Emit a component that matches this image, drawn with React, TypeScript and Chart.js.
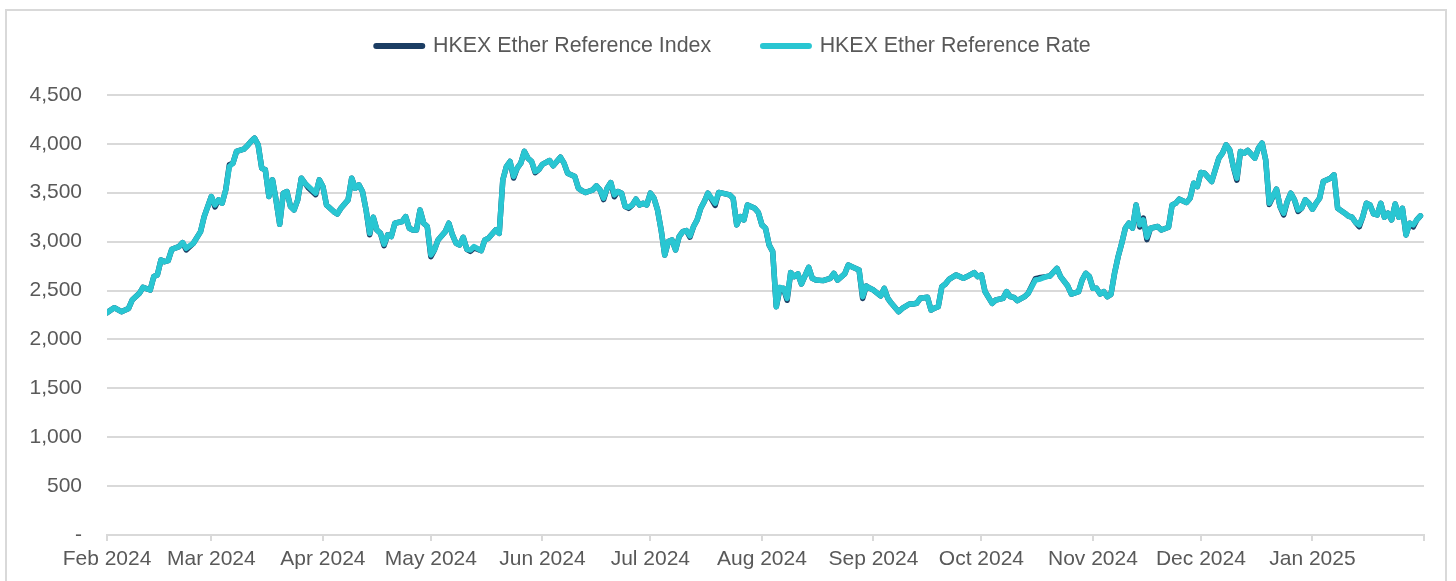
import React, { useEffect, useRef } from "react";
import { Chart, registerables } from "chart.js";

Chart.register(...registerables);

// ---- data ----
const dates: string[] = [
  "2024-02-01","2024-02-03","2024-02-05","2024-02-07","2024-02-08","2024-02-10","2024-02-11","2024-02-13","2024-02-14","2024-02-15","2024-02-16","2024-02-17","2024-02-18","2024-02-19","2024-02-21","2024-02-22","2024-02-23","2024-02-25","2024-02-27","2024-02-28",
  "2024-03-01","2024-03-02","2024-03-03","2024-03-04","2024-03-05","2024-03-06","2024-03-07","2024-03-08","2024-03-10","2024-03-11","2024-03-12","2024-03-13","2024-03-14","2024-03-15","2024-03-16","2024-03-17","2024-03-18","2024-03-19","2024-03-20","2024-03-21","2024-03-22","2024-03-23","2024-03-24","2024-03-25","2024-03-26","2024-03-27","2024-03-28","2024-03-30","2024-03-31",
  "2024-04-01","2024-04-02","2024-04-04","2024-04-05","2024-04-06","2024-04-08","2024-04-09","2024-04-10","2024-04-11","2024-04-12","2024-04-13","2024-04-14","2024-04-15","2024-04-16","2024-04-17","2024-04-18","2024-04-19","2024-04-20","2024-04-21","2024-04-23","2024-04-24","2024-04-25","2024-04-26","2024-04-27","2024-04-28","2024-04-29","2024-04-30",
  "2024-05-01","2024-05-02","2024-05-03","2024-05-05","2024-05-06","2024-05-07","2024-05-08","2024-05-09","2024-05-10","2024-05-11","2024-05-12","2024-05-13","2024-05-15","2024-05-16","2024-05-17","2024-05-19","2024-05-20","2024-05-21","2024-05-22","2024-05-23","2024-05-24","2024-05-25","2024-05-26","2024-05-27","2024-05-28","2024-05-29","2024-05-30","2024-05-31",
  "2024-06-01","2024-06-03","2024-06-04","2024-06-06","2024-06-07","2024-06-08","2024-06-10","2024-06-11","2024-06-12","2024-06-13","2024-06-15","2024-06-16","2024-06-17","2024-06-18","2024-06-19","2024-06-20","2024-06-21","2024-06-22","2024-06-23","2024-06-24","2024-06-25","2024-06-26","2024-06-27","2024-06-28","2024-06-29","2024-06-30",
  "2024-07-01","2024-07-02","2024-07-03","2024-07-04","2024-07-05","2024-07-06","2024-07-07","2024-07-08","2024-07-09","2024-07-10","2024-07-11","2024-07-12","2024-07-13","2024-07-14","2024-07-15","2024-07-16","2024-07-17","2024-07-19","2024-07-20","2024-07-21","2024-07-23","2024-07-24","2024-07-25","2024-07-26","2024-07-27","2024-07-28","2024-07-30","2024-07-31",
  "2024-08-01","2024-08-02","2024-08-03","2024-08-04","2024-08-05","2024-08-06","2024-08-07","2024-08-08","2024-08-09","2024-08-10","2024-08-11","2024-08-12","2024-08-14","2024-08-15","2024-08-16","2024-08-18","2024-08-20","2024-08-21","2024-08-22","2024-08-24","2024-08-25","2024-08-26","2024-08-28","2024-08-29","2024-08-30","2024-08-31",
  "2024-09-01","2024-09-03","2024-09-04","2024-09-05","2024-09-06","2024-09-08","2024-09-09","2024-09-11","2024-09-12","2024-09-13","2024-09-14","2024-09-16","2024-09-17","2024-09-18","2024-09-19","2024-09-20","2024-09-21","2024-09-22","2024-09-24","2024-09-26","2024-09-27","2024-09-29","2024-09-30",
  "2024-10-01","2024-10-02","2024-10-04","2024-10-05","2024-10-07","2024-10-08","2024-10-09","2024-10-10","2024-10-11","2024-10-13","2024-10-14","2024-10-16","2024-10-17","2024-10-19","2024-10-20","2024-10-22","2024-10-23","2024-10-25","2024-10-26","2024-10-28","2024-10-29","2024-10-30","2024-10-31",
  "2024-11-01","2024-11-02","2024-11-03","2024-11-04","2024-11-05","2024-11-06","2024-11-07","2024-11-08","2024-11-09","2024-11-10","2024-11-11","2024-11-12","2024-11-13","2024-11-14","2024-11-15","2024-11-16","2024-11-17","2024-11-19","2024-11-20","2024-11-22","2024-11-23","2024-11-24","2024-11-25","2024-11-27","2024-11-28","2024-11-29","2024-11-30",
  "2024-12-01","2024-12-02","2024-12-04","2024-12-05","2024-12-06","2024-12-07","2024-12-08","2024-12-09","2024-12-10","2024-12-11","2024-12-12","2024-12-13","2024-12-14","2024-12-16","2024-12-17","2024-12-18","2024-12-19","2024-12-20","2024-12-22","2024-12-23","2024-12-24","2024-12-25","2024-12-26","2024-12-27","2024-12-28","2024-12-29","2024-12-30","2024-12-31",
  "2025-01-01","2025-01-02","2025-01-03","2025-01-04","2025-01-06","2025-01-07","2025-01-08","2025-01-10","2025-01-11","2025-01-12","2025-01-13","2025-01-14","2025-01-15","2025-01-16","2025-01-17","2025-01-18","2025-01-19","2025-01-20","2025-01-21","2025-01-22","2025-01-23","2025-01-24","2025-01-25","2025-01-26","2025-01-27","2025-01-28","2025-01-29","2025-01-30","2025-01-31",
];

const indexValues: number[] = [
  2273,2324,2283,2317,2403,2471,2532,2505,2642,2659,2812,2795,2805,2921,2949,2990,2915,2983,3102,3256,
  3461,3355,3427,3393,3529,3785,3802,3922,3945,3980,4024,4058,3990,3751,3734,3461,3631,3420,3177,3495,3512,3358,3324,3427,3648,3597,3548,3480,3631,
  3563,3375,3307,3283,3341,3427,3648,3546,3580,3512,3324,3070,3249,3119,3085,2958,3068,3051,3188,3205,3256,3137,3119,3119,3324,3188,3154,
  2845,2915,3017,3102,3188,3068,2983,2966,3044,2921,2900,2935,2908,3017,3034,3119,3085,3631,3768,3819,3650,3751,3802,3922,3853,3819,3705,3735,
  3790,3829,3775,3863,3802,3700,3666,3546,3519,3502,3529,3570,3529,3430,3546,3604,3458,3512,3495,3358,3340,3375,3434,3375,3392,3375,
  3495,3444,3324,3119,2863,3000,3017,2915,3051,3102,3113,3045,3154,3222,3341,3410,3495,3370,3502,3495,3478,3444,3171,3256,3222,3375,3341,3297,
  3171,3137,2966,2898,2334,2515,2522,2400,2683,2642,2669,2567,2737,2625,2607,2601,2625,2676,2607,2669,2761,2744,2710,2418,2546,2522,
  2505,2444,2522,2420,2369,2283,2317,2362,2362,2369,2420,2430,2300,2320,2334,2539,2567,2614,2659,2625,2642,2683,2642,
  2659,2490,2369,2403,2420,2488,2437,2430,2396,2437,2471,2620,2630,2642,2648,2727,2642,2546,2464,2488,2607,2676,2642,
  2522,2522,2464,2488,2437,2460,2676,2846,2983,3137,3188,3137,3375,3150,3240,3020,3137,3154,3119,3147,3375,3392,3434,3400,3444,3597,3563,
  3706,3700,3614,3734,3853,3904,3990,3939,3768,3628,3922,3904,3932,3853,3956,4007,3836,3380,3536,3358,3272,3410,3495,3427,3308,3341,3427,3392,
  3331,3392,3444,3614,3648,3683,3341,3290,3260,3249,3195,3152,3256,3392,3375,3283,3273,3392,3249,3290,3222,3385,3249,3341,3068,3188,3150,3222,3263,
];

const rateValues: number[] = [
  2273,2324,2283,2317,2403,2471,2532,2505,2642,2659,2812,2795,2805,2921,2949,2990,2932,2983,3102,3256,
  3461,3375,3427,3393,3529,3768,3802,3922,3945,3980,4024,4058,3990,3751,3734,3461,3631,3420,3177,3495,3512,3358,3324,3427,3648,3597,3563,3495,3631,
  3563,3375,3307,3283,3341,3427,3648,3546,3580,3512,3324,3085,3249,3119,3085,2973,3068,3051,3188,3205,3256,3137,3119,3119,3324,3188,3154,
  2863,2915,3017,3102,3188,3068,2983,2966,3044,2921,2915,2949,2908,3017,3034,3119,3085,3631,3768,3819,3666,3751,3802,3922,3853,3819,3717,3735,
  3790,3829,3775,3863,3802,3700,3666,3546,3519,3502,3529,3570,3529,3444,3546,3604,3478,3512,3495,3358,3352,3375,3434,3375,3392,3375,
  3495,3444,3324,3119,2863,3000,3017,2915,3051,3102,3113,3058,3154,3222,3341,3410,3495,3392,3502,3495,3478,3444,3171,3256,3222,3375,3341,3297,
  3171,3137,2966,2898,2334,2532,2522,2420,2683,2642,2669,2567,2737,2625,2607,2601,2625,2676,2607,2669,2761,2744,2710,2437,2546,2522,
  2505,2444,2522,2420,2369,2283,2317,2362,2362,2369,2420,2430,2300,2320,2334,2539,2567,2614,2659,2625,2642,2683,2642,
  2659,2490,2369,2403,2420,2488,2437,2430,2396,2437,2471,2607,2614,2642,2648,2727,2642,2546,2464,2488,2607,2676,2642,
  2522,2522,2464,2488,2437,2460,2676,2846,2983,3137,3188,3137,3375,3171,3222,3044,3137,3154,3119,3147,3375,3392,3434,3400,3444,3597,3563,
  3706,3700,3614,3734,3853,3904,3990,3939,3768,3648,3922,3904,3932,3853,3956,4007,3836,3392,3536,3358,3290,3410,3495,3427,3324,3341,3427,3392,
  3331,3392,3444,3614,3648,3683,3341,3290,3260,3249,3195,3171,3256,3392,3375,3283,3273,3392,3249,3290,3222,3385,3249,3341,3068,3188,3171,3222,3263,
];

const seriesNames = ["HKEX Ether Reference Index", "HKEX Ether Reference Rate"];

const monthTicks = [
  "2024-02-01","2024-03-01","2024-04-01","2024-05-01","2024-06-01","2024-07-01",
  "2024-08-01","2024-09-01","2024-10-01","2024-11-01","2024-12-01","2025-01-01","2025-02-01",
];
const monthLabels = [
  "Feb 2024","Mar 2024","Apr 2024","May 2024","Jun 2024","Jul 2024",
  "Aug 2024","Sep 2024","Oct 2024","Nov 2024","Dec 2024","Jan 2025","",
];
const yTickLabels = ["-","500","1,000","1,500","2,000","2,500","3,000","3,500","4,000","4,500"];

// ---- styles ----
const FONT = "'Liberation Sans', Arial, Helvetica, sans-serif";
const TEXT = "#595959";
const GRID = "#d9d9d9";
const INDEX_COLOR = "#1B3D63";
const RATE_COLOR = "#29C6D2";

const toDay = (d: string) => Date.parse(d + "T00:00:00Z") / 86400000;

export default function App() {
  const canvasRef = useRef<HTMLCanvasElement | null>(null);

  useEffect(() => {
    const canvas = canvasRef.current;
    if (!canvas) return;
    const n = Math.min(dates.length, indexValues.length, rateValues.length);
    const pts = (vals: number[]) =>
      dates.slice(0, n).map((d, i) => ({ x: toDay(d), y: vals[i] }));

    // adds space below the legend and nudges it horizontally
    const legendGap = {
      id: "legendGap",
      beforeLayout(chart: any) {
        const lg = chart.legend;
        if (lg && !lg.__patched) {
          const fit = lg.fit;
          lg.fit = function () {
            fit.call(this);
            this.height += 28.25;
          };
          lg.__patched = true;
        }
      },
      afterLayout(chart: any) {
        const lg = chart.legend;
        if (lg) {
          lg.left += 17.5;
          lg.right += 17.5;
        }
      },
    };

    const baseGen = (Chart as any).defaults.plugins.legend.labels.generateLabels;

    const lineStyle = {
      borderWidth: 5.5,
      pointRadius: 0,
      pointHoverRadius: 0,
      tension: 0,
      borderJoinStyle: "round",
      borderCapStyle: "round",
    };

    const chart = new Chart(canvas, {
      type: "line",
      data: {
        datasets: [
          {
            label: seriesNames[0],
            data: pts(indexValues),
            borderColor: INDEX_COLOR,
            backgroundColor: INDEX_COLOR,
            ...lineStyle,
            order: 1,
          },
          {
            label: seriesNames[1],
            data: pts(rateValues),
            borderColor: RATE_COLOR,
            backgroundColor: RATE_COLOR,
            ...lineStyle,
            order: 0,
          },
        ],
      },
      options: {
        responsive: true,
        maintainAspectRatio: false,
        animation: false,
        events: [],
        layout: { padding: { top: -16.5, left: 8, right: 32, bottom: 0 } },
        plugins: {
          tooltip: { enabled: false },
          legend: {
            display: true,
            position: "top",
            align: "center",
            labels: {
              usePointStyle: true,
              pointStyle: "line",
              pointStyleWidth: 46,
              padding: 51.75,
              color: TEXT,
              font: { family: FONT, size: 21.4 },
              sort: (a: any, b: any) => a.datasetIndex - b.datasetIndex,
              generateLabels: (c: any) =>
                baseGen(c).map((it: any) => ({
                  ...it,
                  lineWidth: 6,
                  lineCap: "round",
                  strokeStyle: c.data.datasets[it.datasetIndex].borderColor,
                })),
            },
          },
        },
        scales: {
          x: {
            type: "linear",
            min: toDay(monthTicks[0]),
            max: toDay(monthTicks[monthTicks.length - 1]),
            afterBuildTicks: (s: any) => {
              s.ticks = monthTicks.map((d) => ({ value: toDay(d) }));
            },
            afterFit: (s: any) => {
              s.height = 46;
            },
            ticks: {
              autoSkip: false,
              maxRotation: 0,
              minRotation: 0,
              padding: 6,
              color: TEXT,
              font: { family: FONT, size: 21 },
              callback: (_v: any, i: number) => monthLabels[i] ?? "",
            },
            grid: {
              drawOnChartArea: false,
              drawTicks: true,
              tickLength: 6,
              color: GRID,
              lineWidth: 2,
            },
            border: { display: true, color: GRID, width: 2 },
          },
          y: {
            min: 0,
            max: 4500,
            afterFit: (s: any) => {
              s.width = 99;
            },
            ticks: {
              stepSize: 500,
              padding: 25,
              color: TEXT,
              font: { family: FONT, size: 21 },
              callback: (_v: any, i: number) => yTickLabels[i] ?? "",
            },
            grid: { color: GRID, lineWidth: 2, drawTicks: false },
            border: { display: false },
          },
        },
      } as any,
      plugins: [legendGap],
    });

    return () => chart.destroy();
  }, []);

  return (
    <div
      style={{
        position: "fixed",
        left: 0,
        top: 0,
        width: 1456,
        height: 581,
        background: "#ffffff",
        overflow: "hidden",
      }}
    >
      <div
        style={{
          position: "absolute",
          left: 5,
          top: 9,
          width: 1438,
          height: 640,
          border: `2px solid ${GRID}`,
        }}
      />
      <div style={{ position: "absolute", left: 0, top: 0, width: 1456, height: 581 }}>
        <canvas ref={canvasRef} />
      </div>
    </div>
  );
}
